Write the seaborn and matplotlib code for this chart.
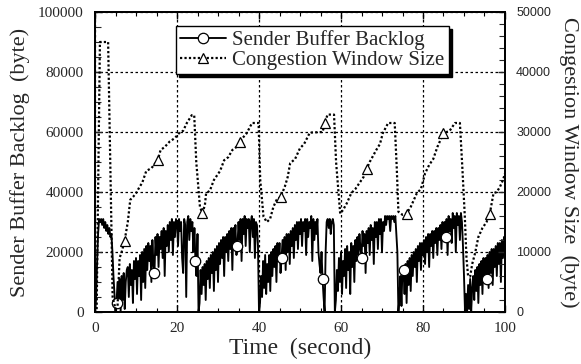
import numpy as np
import matplotlib
matplotlib.use("Agg")
import matplotlib.pyplot as plt
from matplotlib.ticker import MultipleLocator
import seaborn as sns

# ---------------- data ----------------
# Sender buffer backlog, sampled every 0.25 s from t = 0 to t = 100 (bytes / 1000)
backlog_k = (
    [0, 4, 16, 26, 31, 30, 31, 29, 31, 28, 30, 27, 29, 26, 28, 25, 26, 20, 12, 6]          # 0 - 4.75
    + [0, 3, 10, 2, 11, 0, 12, 4, 13, 1, 10, 14]                                          # 5 - 7.75
    + [15, 5, 16, 9, 14, 3, 17, 11, 18, 6, 17, 12, 19, 4, 20, 10, 21, 8]                  # 8 - 12.25
    + [22, 14, 23, 17, 22, 10, 24, 16, 13, 25, 19, 26, 15, 25, 21, 27, 18, 28, 12, 27,
       22, 29, 20, 30, 24, 31, 19, 30, 25, 31]                                            # 12.5 - 19.75
    + [30, 22, 31, 27, 30, 18, 13, 31, 29, 5, 30, 32, 24, 31, 27, 30, 20, 28, 17, 12, 26]  # 20 - 25
    + [0, 3, 14, 6, 15, 9, 16, 4, 17, 11, 18, 8, 19, 13, 20, 7, 21, 14, 22, 10, 23, 16]   # 25.25 - 30.5
    + [24, 18, 25, 12, 25, 20, 26, 17, 27, 21, 28, 14, 28, 23, 29, 19, 22, 30, 24, 31,
       17, 31, 26, 32, 22, 31]                                                            # 30.75 - 37
    + [28, 31, 20, 30, 32, 25, 31, 18, 30, 29, 22]                                        # 37.25 - 39.75
    + [0]                                                                                 # 40
    + [3, 12, 5, 17, 8, 19, 6, 16, 10, 19, 7]                                             # 40.25 - 42.75
    + [20, 12, 21, 15, 22, 10, 23, 17, 23, 13, 18, 24, 19, 25, 14, 26, 20, 26, 16, 27,
       22, 28, 18]                                                                        # 43 - 48.5
    + [29, 24, 30, 21, 30, 26, 31, 22, 30, 27, 31, 19, 31, 25, 30, 28, 32, 17, 31, 24,
       30, 26, 31, 20]                                                                    # 48.75 - 54.5
    + [16, 13, 20, 11, 5, 0, 20, 30, 31, 28, 31, 26, 30, 31, 29]                          # 54.75 - 58.25
    + [0]                                                                                 # 58.5
    + [4, 14, 7, 18, 10, 20, 6, 17, 12, 21, 8, 22, 14, 20, 6, 23, 15, 22, 10, 24, 17, 25]  # 58.75 - 64
    + [19, 26, 21, 18, 27, 22, 26, 13, 27, 23, 28, 19, 29, 24, 28, 16, 30, 25, 30, 21,
       31, 26, 31, 20, 30, 27]                                                            # 64.25 - 70.5
    + [32, 29, 32, 31, 32, 27, 32, 31, 32, 30, 32, 26]                                    # 70.75 - 73.5
    + [20, 0]                                                                             # 73.75 - 74
    + [5, 12, 2, 15, 14, 6, 16, 3, 17, 9, 18, 7]                                          # 74.25 - 77
    + [19, 12, 20, 15, 21, 10, 22, 17, 23, 14, 23, 19, 24, 16, 25, 20, 26, 15, 26, 22,
       27, 18, 27, 23, 28, 19, 28, 24]                                                    # 77.25 - 84
    + [29, 21, 30, 26, 30, 25, 31, 19, 32, 27, 31, 23, 33, 28, 32, 20, 33, 29, 32, 24,
       33, 30, 22]                                                                        # 84.25 - 89.75
    + [12, 0]                                                                             # 90 - 90.25
    + [6, 0, 9, 1, 11, 0, 8]                                                              # 90.5 - 92
    + [12, 4, 14, 7, 15, 3, 16, 9, 17, 6, 18, 11, 18, 11, 19, 8, 20, 13, 21, 9, 21, 15,
       22, 12, 23, 16, 23, 10, 24, 18, 25, 20]                                            # 92.25 - 100
)
backlog = np.array(backlog_k) * 1000.0
backlog_time = np.arange(len(backlog)) * 0.25
backlog_marker_idx = [21, 58, 98, 139, 182, 222, 260, 301, 342, 382]

# Congestion window size (bytes)
cwnd_time = [0, 0.4, 1.2, 3.2, 3.8, 4.3, 5.0, 5.5, 6.0, 6.5, 7.2, 8.0, 8.6, 9.3, 10.0, 11.0,
             11.5, 12.5, 13.8, 15.3, 16.0, 17.0, 18.2, 19.5, 20.5, 21.5, 22.4, 23.6, 24.2,
             24.7, 25.6, 26.2, 26.8, 27.1, 28.0, 29.0, 29.5, 30.5, 31.5, 32.5, 33.5, 34.5,
             35.4, 36.0, 37.0, 38.3, 39.9,
             40.3, 41.1, 41.9, 42.7, 43.5, 44.3, 45.3, 46.3, 47.0, 47.6, 48.8, 50.0, 51.0,
             52.4, 55.5, 56.1, 56.7, 58.3,
             58.8, 59.8, 60.5, 61.4, 62.5, 63.5, 64.5, 65.5, 66.3, 67.0, 68.6, 69.5, 70.2,
             71.5, 73.1,
             73.6, 74.0, 75.0, 76.0, 77.0, 78.5, 79.5, 80.5, 81.5, 82.5, 83.5, 85.0, 86.5,
             87.8, 89.0,
             89.6, 90.2, 90.6, 91.0, 91.5, 92.0, 92.7, 93.5, 94.5, 95.5, 96.3, 97.2, 98.0,
             98.8, 99.5, 100]
cwnd = [0, 0, 45000, 45000, 22000, 2500, 500, 1000, 9000, 10000, 11800, 15000, 18700, 19200,
        19800, 21000, 21500, 23500, 24000, 25300, 27000, 27500, 28400, 29000, 29800, 30200,
        31500, 32800, 32800,
        25000, 17500, 16500, 17800, 19800, 20200, 22000, 22500, 23500, 25300, 25800, 27000,
        27500, 28300, 29000, 29800, 31500, 31500,
        22000, 15900, 15000, 15500, 17500, 18700, 19200, 20900, 22500, 24800, 25500, 27300,
        28000, 29900, 30000, 31500, 32900, 32900,
        25000, 16400, 17000, 18100, 19800, 20500, 21500, 22500, 23900, 25000, 27000, 28000,
        29800, 31500, 31500,
        24000, 16700, 16200, 16400, 17500, 19800, 20500, 23100, 24500, 25500, 27500, 29800,
        30200, 31500, 31500,
        24000, 15900, 9000, 6000, 5900, 8000, 9800, 12500, 14000, 15000, 16400, 19800, 20000,
        20900, 22000, 23100]
cwnd_marker_idx = [10, 19, 31, 42, 53, 62, 73, 83, 91, 105]

x_ticks = [0, 20, 40, 60, 80, 100]
left_ticks = [0, 20000, 40000, 60000, 80000, 100000]
right_ticks = [0, 10000, 20000, 30000, 40000, 50000]

label_backlog = "Sender Buffer Backlog"
label_cwnd = "Congestion Window Size"

# ---------------- style ----------------
sns.set_style("white")
plt.rcParams["font.family"] = ["Liberation Serif", "DejaVu Serif"]
plt.rcParams["axes.linewidth"] = 1.3

fig = plt.figure(figsize=(5.81, 3.64), dpi=100)
ax = fig.add_axes([95 / 581, 52 / 364, 410 / 581, 300 / 364])
ax2 = ax.twinx()

sns.lineplot(x=backlog_time, y=backlog, ax=ax, color="black", lw=1.35, estimator=None,
             sort=False, marker="o", markevery=backlog_marker_idx, ms=7.5,
             mfc="white", mec="black", mew=0.9, label=label_backlog, legend=False)
sns.lineplot(x=cwnd_time, y=cwnd, ax=ax2, color="black", lw=1.6, estimator=None,
             sort=False, linestyle=(0, (1.0, 1.0)), marker="^", markevery=cwnd_marker_idx,
             ms=7.5, mfc="white", mec="black", mew=0.9, label=label_cwnd, legend=False)

ax.set_xlim(0, 100)
ax.set_ylim(0, 100000)
ax2.set_ylim(0, 50000)
ax.set_xticks(x_ticks)
ax.set_yticks(left_ticks)
ax2.set_yticks(right_ticks)
ax.xaxis.set_minor_locator(MultipleLocator(5))
ax.yaxis.set_minor_locator(MultipleLocator(5000))
ax2.yaxis.set_minor_locator(MultipleLocator(2000))

ax.grid(True, which="major", color="black", linestyle=(0, (2, 2)), lw=0.9)
ax.set_axisbelow(True)

ax.tick_params(axis="x", which="both", direction="in", top=True, bottom=True,
               labelsize=11, pad=7, color="black")
ax.tick_params(axis="x", which="major", length=5, width=1.0)
ax.tick_params(axis="x", which="minor", length=3, width=0.8)
ax.tick_params(axis="y", which="both", direction="in", left=True, right=False,
               labelsize=11, pad=8)
ax.tick_params(axis="y", which="major", length=5, width=1.0)
ax.tick_params(axis="y", which="minor", length=4, width=0.8)
ax2.tick_params(axis="y", which="both", direction="in", right=True, labelsize=9, pad=8)
ax2.tick_params(axis="y", which="major", length=5, width=1.0)
ax2.tick_params(axis="y", which="minor", length=4, width=0.8)
for lab in ax2.get_yticklabels():
    lab.set_fontfamily("Liberation Sans")

for a in (ax, ax2):
    for s in a.spines.values():
        s.set_color("black")
        s.set_linewidth(1.3)

ax.set_xlabel("Time  (second)", fontsize=17, labelpad=2)
ax.set_ylabel("Sender Buffer Backlog  (byte)", fontsize=16, labelpad=6)
ax2.set_ylabel("Congestion Window Size  (byte)", fontsize=16, rotation=-90, labelpad=20)

h1 = ax.get_lines()[0]
h2 = ax2.get_lines()[0]
leg = ax2.legend([h1, h2], [label_backlog, label_cwnd], loc="upper left",
                 bbox_to_anchor=(0.198, 0.952), fontsize=15, frameon=True,
                 fancybox=False, shadow={"color": "black", "alpha": 1.0},
                 edgecolor="black", framealpha=1.0, handlelength=2.2,
                 borderpad=0.2, labelspacing=0.0, handletextpad=0.3,
                 borderaxespad=0.0)
leg.get_frame().set_linewidth(1.0)

fig.savefig("out.png", dpi=100)
